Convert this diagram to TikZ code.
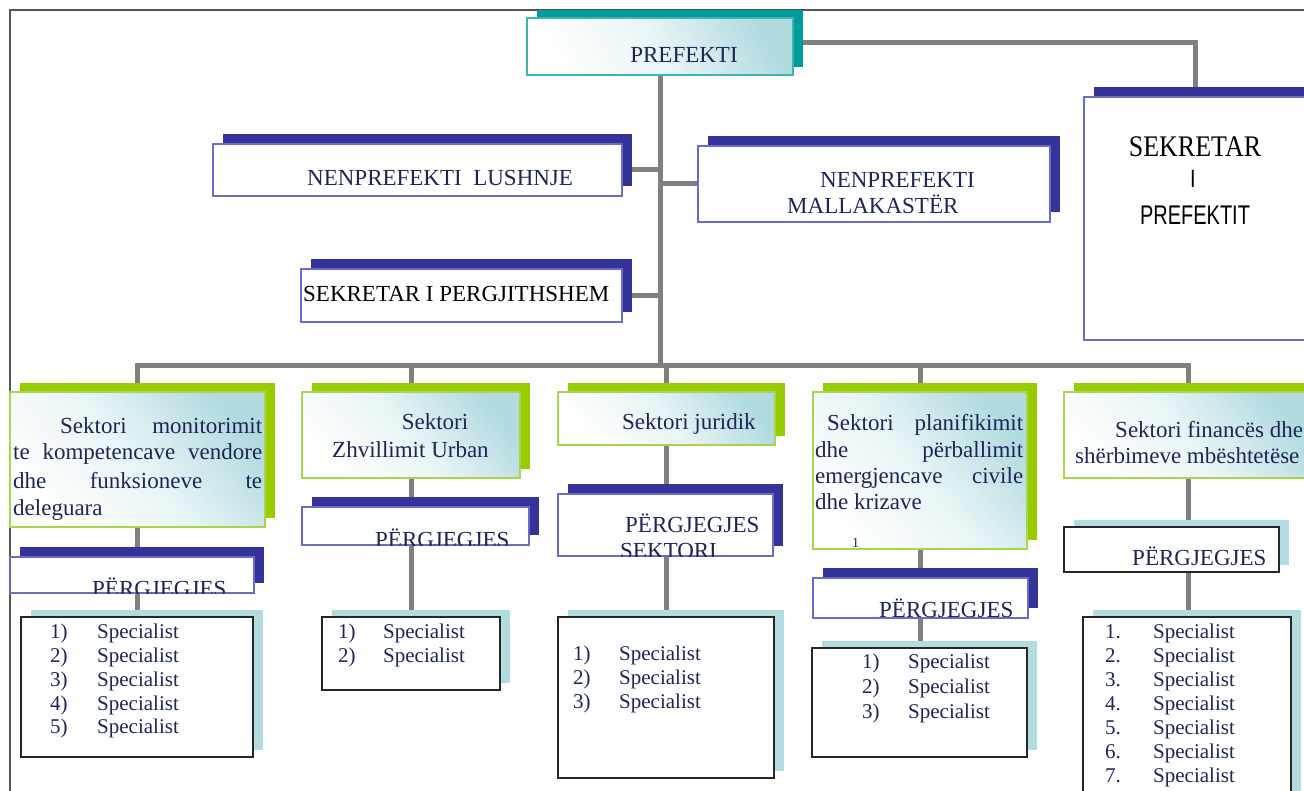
\documentclass[tikz,border=0pt]{standalone}
\usepackage{fontspec}
\usepackage{graphicx}
\setmainfont{Liberation Serif}
\newfontfamily\sansf{Liberation Sans}
\usetikzlibrary{shadows,backgrounds}
\definecolor{navysh}{HTML}{333399}
\definecolor{navybd}{HTML}{6A6AC8}
\definecolor{greensh}{HTML}{99CC00}
\definecolor{greenbd}{HTML}{A8D44E}
\definecolor{tealsh}{HTML}{009C9C}
\definecolor{tealbd}{HTML}{3DB3B3}
\definecolor{lightsh}{HTML}{B3DCE0}
\definecolor{gradc}{HTML}{B2DBE0}
\definecolor{linec}{HTML}{808080}
\definecolor{txtc}{HTML}{1E2557}
\definecolor{framec}{HTML}{555555}
\tikzset{
 box/.style={rectangle, inner sep=0pt, line width=1.6pt},
 navybox/.style={box, draw=navybd, fill=white, general shadow={fill=navysh, shadow xshift=10pt, shadow yshift=10pt}},
 gradfill/.style={top color=gradc, bottom color=white, middle color=gradc!30!white},
 greenbox/.style={box, draw=greenbd, gradfill, shading angle=-50, general shadow={fill=greensh, shadow xshift=10pt, shadow yshift=9pt}},
 prefbox/.style={box, draw=tealbd, gradfill, shading angle=-60, general shadow={fill=tealsh, shadow xshift=10pt, shadow yshift=8pt}},
 listbox/.style={box, draw=black!85, line width=1.8pt, fill=white, general shadow={fill=lightsh, shadow xshift=10pt, shadow yshift=7pt}},
 conn/.style={draw=linec, line width=5pt, line cap=rect},
 txt/.style={inner sep=0pt, text=txtc, font=\fontsize{23}{27}\selectfont, anchor=base west},
 lst/.style={inner sep=0pt, text=txtc, font=\fontsize{21}{24}\selectfont, anchor=base west},
}
\begin{document}
\begin{tikzpicture}[x=1pt,y=-1pt]
\useasboundingbox (0,0) rectangle (1304,791);
\clip (0,0) rectangle (1304,791);
% boxes
\node[prefbox, minimum width=266pt, minimum height=57pt] (pref) at (660,46.5) {};
\node[navybox, minimum width=409pt, minimum height=52pt] (nl) at (417.5,170) {};
\node[navybox, minimum width=352pt, minimum height=76pt] (nm) at (874,184) {};
\node[navybox, minimum width=321pt, minimum height=53pt] (sg) at (461.5,295.5) {};
\node[navybox, minimum width=246pt, minimum height=243pt] (sp) at (1207,218.5) {};
\node[greenbox, minimum width=255pt, minimum height=135pt] (s1) at (137.5,459.5) {};
\node[greenbox, minimum width=218pt, minimum height=86pt] (s2) at (411,435) {};
\node[greenbox, minimum width=217pt, minimum height=53pt] (s3) at (666.5,418.5) {};
\node[greenbox, minimum width=214pt, minimum height=157pt] (s4) at (920,470.5) {};
\node[greenbox, minimum width=248pt, minimum height=86pt] (s5) at (1188,435) {};
\node[navybox, minimum width=244pt, minimum height=36pt] (p1) at (132,575) {};
\node[navybox, minimum width=227pt, minimum height=38pt] (p2) at (415.5,526) {};
\node[navybox, minimum width=215pt, minimum height=62pt] (p3) at (665.5,525) {};
\node[navybox, minimum width=215pt, minimum height=40pt] (p4) at (920.5,598) {};
\node[listbox, minimum width=215pt, minimum height=45pt] (p5) at (1171.5,549.5) {};
\node[listbox, minimum width=232pt, minimum height=140pt] (l1) at (137,687) {};
\node[listbox, minimum width=178pt, minimum height=73pt] (l2) at (411,653.5) {};
\node[listbox, minimum width=216pt, minimum height=161pt] (l3) at (666,697.5) {};
\node[listbox, minimum width=215pt, minimum height=109pt] (l4) at (919.5,702.5) {};
\node[listbox, minimum width=208pt, minimum height=213pt] (l5) at (1187,723.5) {};
% texts
\node[txt, anchor=base] (tpref) at (684,63) {PREFEKTI};
\node[txt] (tnl) at (307,186) {NENPREFEKTI\ \ LUSHNJE};
\node[txt] (tnm1) at (820,188) {NENPREFEKTI};
\node[txt] (tnm2) at (787,214) {MALLAKAST\"ER};
\node[txt, text=black] (tsg) at (303,302) {SEKRETAR I PERGJITHSHEM};
\node[inner sep=0pt, anchor=base, font=\fontsize{26}{30}\selectfont] (tsp1) at (1195,157) {\scalebox{1}[1.15]{SEKRETAR}};
\node[inner sep=0pt, anchor=base, font=\sansf\fontsize{20}{24}\selectfont] (tsp2) at (1193,188) {\scalebox{1}[1.25]{I}};
\node[inner sep=0pt, anchor=base, font=\sansf\fontsize{20}{24}\selectfont] (tsp3) at (1195,225) {\scalebox{1}[1.35]{PREFEKTIT}};
% sector 1
\node[txt] (t1a) at (13,433) {\makebox[249pt][s]{\hspace*{47pt}Sektori\hfill monitorimit}};
\node[txt] (t1b) at (13,460) {\makebox[249pt][s]{te\hfill kompetencave\hfill vendore}};
\node[txt] (t1c) at (13,488) {\makebox[249pt][s]{dhe\hfill funksioneve\hfill te}};
\node[txt] (t1d) at (13,515) {deleguara};
% sector 2
\node[txt, anchor=base] (t2a) at (435,430) {Sektori};
\node[txt] (t2b) at (332,457) {Zhvillimit Urban};
% sector 3
\node[txt] (t3a) at (622,430) {Sektori juridik};
% sector 4
\node[txt] (t4a) at (815,431) {\makebox[208pt][s]{\hspace*{12pt}Sektori\hfill planifikimit}};
\node[txt] (t4b) at (815,457) {\makebox[208pt][s]{dhe\hfill p\"erballimit}};
\node[txt] (t4c) at (815,483) {\makebox[208pt][s]{emergjencave\hfill civile}};
\node[txt] (t4d) at (815,509) {dhe krizave};
\node[txt, font=\fontsize{14}{16}\selectfont] (t4e) at (852,547) {1};
% sector 5
\node[txt] (t5a) at (1115,438) {Sektori financ\"es dhe};
\node[txt] (t5b) at (1075,463) {sh\"erbimeve mb\"eshtet\"ese};
% pergjegjes texts (clipped)
\begin{scope}
\clip (p1.south west) rectangle (p1.north east);
\node[txt] (tp1) at (92,596) {P\"ERGJEGJES};
\end{scope}
\begin{scope}
\clip (p2.south west) rectangle (p2.north east);
\node[txt] (tp2) at (375,547) {P\"ERGJEGJES};
\end{scope}
\begin{scope}
\clip (p3.south west) rectangle (p3.north east);
\node[txt] (tp3a) at (625,532) {P\"ERGJEGJES};
\node[txt] (tp3b) at (620,558) {SEKTORI};
\end{scope}
\begin{scope}
\clip (p4.south west) rectangle (p4.north east);
\node[txt] (tp4) at (879,617) {P\"ERGJEGJES};
\end{scope}
\node[txt] (tp5) at (1132,565) {P\"ERGJEGJES};
% lists
\foreach \y [count=\i] in {638,662,686,710,733} {
  \node[lst] (l1n\i) at (50,\y) {\i)};
  \node[lst] (l1s\i) at (97,\y) {Specialist};
}
\foreach \y [count=\i] in {638,662} {
  \node[lst] (l2n\i) at (338,\y) {\i)};
  \node[lst] (l2s\i) at (383,\y) {Specialist};
}
\foreach \y [count=\i] in {660,684,708} {
  \node[lst] (l3n\i) at (573,\y) {\i)};
  \node[lst] (l3s\i) at (619,\y) {Specialist};
}
\foreach \y [count=\i] in {668,693,718} {
  \node[lst] (l4n\i) at (862,\y) {\i)};
  \node[lst] (l4s\i) at (908,\y) {Specialist};
}
\foreach \y [count=\i] in {638,662,686,710,734,758,782} {
  \node[lst] (l5n\i) at (1105,\y) {\i.};
  \node[lst] (l5s\i) at (1153,\y) {Specialist};
}
% connectors and frame behind
\begin{scope}[on background layer]
\fill[white] (0,0) rectangle (1304,791);
\draw[framec, line width=1.2pt] (10,791) -- (10,10) -- (1304,10);
\coordinate (bus) at (660,366);
\draw[conn] (pref.south) -- (pref.south |- bus);
\draw[conn] (s1.north |- bus) -- (s5.north |- bus);
\foreach \s/\l in {s1/l1,s2/l2,s3/l3,s4/l4,s5/l5} {
  \draw[conn] (\s.north |- bus) -- (\s.north);
  \draw[conn] (\s.south) -- (\s.south |- \l.north);
}
\draw[conn] (nl.east) -- (nl.east -| pref.south);
\draw[conn] (nm.west) -- (nm.west -| pref.south);
\draw[conn] (sg.east) -- (sg.east -| pref.south);
\draw[conn, line join=miter] ([yshift=3.5pt]pref.east) -| (tsp1.base |- sp.north);
\end{scope}
\end{tikzpicture}
\end{document}
